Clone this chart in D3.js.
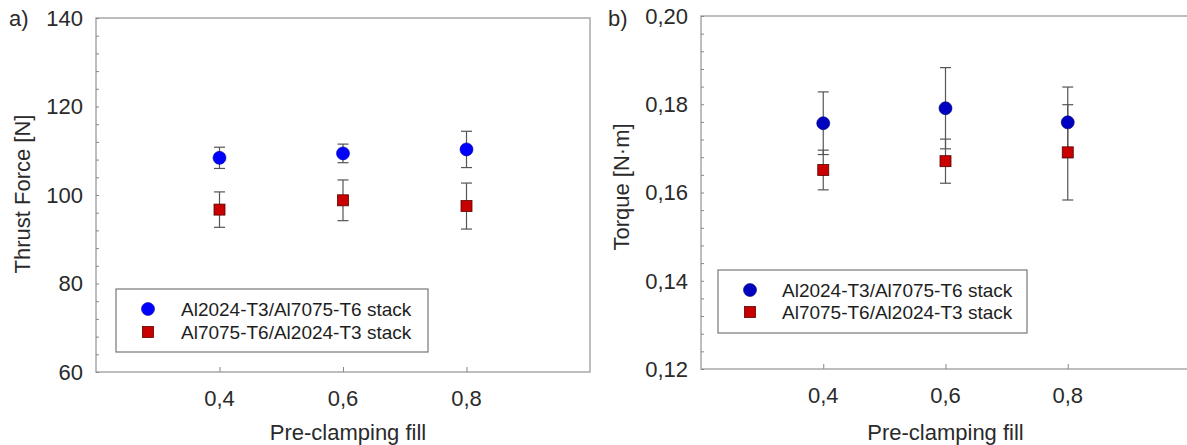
<!DOCTYPE html>
<html>
<head>
<meta charset="utf-8">
<script src="https://cdn.jsdelivr.net/npm/d3@7"></script>
<style>
  body { margin: 0; background: #fff; }
  svg { display: block; font-family: "Liberation Sans", Arial, sans-serif; }
</style>
</head>
<body>
<svg id="chart" width="1187" height="445"></svg>
<script>
// pre-clamping fill levels (x)
const fills = [0.4, 0.6, 0.8];
const seriesNames = ["Al2024-T3/Al7075-T6 stack", "Al7075-T6/Al2024-T3 stack"];

// a) thrust force [N]
const thrustA = [108.4, 109.4, 110.3];
const thrustAErr = [2.4, 2.1, 4.1];
const thrustB = [96.7, 98.8, 97.5];
const thrustBErr = [4.0, 4.6, 5.2];
const thrustTicks = [60, 80, 100, 120, 140];

// b) torque [N·m]
const torqueA = [0.1757, 0.1791, 0.1759];
const torqueAErr = [0.0071, 0.0092, 0.0080];
const torqueB = [0.1651, 0.1671, 0.1691];
const torqueBErr = [0.0045, 0.0050, 0.0108];
const torqueTicks = [0.12, 0.14, 0.16, 0.18, 0.20];

const comma = f => d => f(d).replace(".", ",");

const svg = d3.select("#chart");

function drawPanel(cfg) {
  const x = d3.scaleLinear().domain([0.2, 1.0]).range([cfg.left, cfg.right]);
  const y = d3.scaleLinear().domain(cfg.yDomain).range([cfg.bottom, cfg.top]);
  const g = svg.append("g");

  // frame
  g.append("rect")
    .attr("x", cfg.left).attr("y", cfg.top)
    .attr("width", cfg.right - cfg.left).attr("height", cfg.bottom - cfg.top)
    .attr("fill", "none").attr("stroke", "#a8a8a8").attr("stroke-width", 1.5);

  // y axis: inward ticks, minor every 1/5 of major
  const minor = d3.range(cfg.yDomain[0], cfg.yDomain[1] + cfg.minorStep / 2, cfg.minorStep);
  const yAxis = d3.axisRight(y).tickValues(minor).tickSize(3).tickFormat("");
  g.append("g").attr("transform", `translate(${cfg.left},0)`).call(yAxis)
    .call(a => a.select(".domain").remove())
    .call(a => a.selectAll("line").attr("stroke", "#888"));

  g.append("g").selectAll("text")
    .data(cfg.yTicks)
    .join("text")
    .attr("x", cfg.left - 13)
    .attr("y", d => y(d))
    .attr("dy", "0.36em")
    .attr("text-anchor", "end")
    .attr("font-size", 22)
    .attr("fill", "#2a2a2a")
    .text(cfg.yFormat);

  // x axis
  const xAxis = d3.axisTop(x).tickValues(fills).tickSize(5).tickFormat("");
  g.append("g").attr("transform", `translate(0,${cfg.bottom})`).call(xAxis)
    .call(a => a.select(".domain").remove())
    .call(a => a.selectAll("line").attr("stroke", "#888"));

  g.append("g").selectAll("text")
    .data(fills)
    .join("text")
    .attr("x", d => x(d))
    .attr("y", cfg.bottom + 34)
    .attr("text-anchor", "middle")
    .attr("font-size", 22)
    .attr("fill", "#2a2a2a")
    .text(comma(d3.format(".1f")));

  // titles
  g.append("text")
    .attr("x", (cfg.left + cfg.titleRight) / 2)
    .attr("y", 440)
    .attr("text-anchor", "middle")
    .attr("font-size", 22)
    .attr("fill", "#2a2a2a")
    .text("Pre-clamping fill");

  g.append("text")
    .attr("transform", `translate(${cfg.yTitleX},${cfg.yTitleY}) rotate(-90)`)
    .attr("text-anchor", "middle")
    .attr("font-size", 22)
    .attr("fill", "#2a2a2a")
    .text(cfg.yTitle);

  g.append("text")
    .attr("x", cfg.labelX).attr("y", 26)
    .attr("font-size", 22)
    .attr("fill", "#2a2a2a")
    .text(cfg.label);

  // error bars + markers
  const series = [
    { vals: cfg.a, errs: cfg.aErr, shape: "circle", fill: cfg.blue, stroke: cfg.blueStroke },
    { vals: cfg.b, errs: cfg.bErr, shape: "square", fill: "#c80000", stroke: "#5a0000" }
  ];
  const cap = 5.5;

  series.forEach(s => {
    const pts = fills.map((f, i) => ({ x: f, v: s.vals[i], e: s.errs[i] }));
    const eb = g.append("g").attr("stroke", "#555").attr("stroke-width", 1.2);
    eb.selectAll(".stem").data(pts).join("line")
      .attr("x1", d => x(d.x)).attr("x2", d => x(d.x))
      .attr("y1", d => y(d.v - d.e)).attr("y2", d => y(d.v + d.e));
    eb.selectAll(".cap").data(pts.flatMap(d => [{ x: d.x, v: d.v - d.e }, { x: d.x, v: d.v + d.e }])).join("line")
      .attr("x1", d => x(d.x) - cap).attr("x2", d => x(d.x) + cap)
      .attr("y1", d => y(d.v)).attr("y2", d => y(d.v));
  });

  series.forEach(s => {
    const pts = fills.map((f, i) => ({ x: f, v: s.vals[i] }));
    if (s.shape === "circle") {
      g.append("g").selectAll("circle").data(pts).join("circle")
        .attr("cx", d => x(d.x)).attr("cy", d => y(d.v)).attr("r", 6.5)
        .attr("fill", s.fill).attr("stroke", s.stroke).attr("stroke-width", 0.6);
    } else {
      g.append("g").selectAll("rect").data(pts).join("rect")
        .attr("x", d => x(d.x) - 5.5).attr("y", d => y(d.v) - 5.5)
        .attr("width", 11).attr("height", 11)
        .attr("fill", s.fill).attr("stroke", s.stroke).attr("stroke-width", 0.8);
    }
  });

  // legend
  const L = cfg.legend;
  const lg = g.append("g");
  lg.append("rect")
    .attr("x", L.x).attr("y", L.y).attr("width", L.w).attr("height", L.h)
    .attr("fill", "#fff").attr("stroke", "#777").attr("stroke-width", 1.2);
  lg.append("circle")
    .attr("cx", L.markX).attr("cy", L.y + L.row1).attr("r", 6.5)
    .attr("fill", cfg.blue).attr("stroke", cfg.blueStroke).attr("stroke-width", 0.6);
  lg.append("rect")
    .attr("x", L.markX - 5.5).attr("y", L.y + L.row2 - 5.5).attr("width", 11).attr("height", 11)
    .attr("fill", "#c80000").attr("stroke", "#5a0000").attr("stroke-width", 0.8);
  lg.selectAll("text").data(seriesNames).join("text")
    .attr("x", L.textX)
    .attr("y", (d, i) => L.y + (i === 0 ? L.row1 : L.row2))
    .attr("dy", "0.36em")
    .attr("font-size", 19)
    .attr("fill", "#1e1e1e")
    .text(d => d);
}

drawPanel({
  label: "a)", labelX: 9,
  left: 96, right: 590, top: 18, bottom: 372, titleRight: 600,
  yDomain: [60, 140], yTicks: thrustTicks, minorStep: 4,
  yFormat: d3.format("d"),
  yTitle: "Thrust Force [N]", yTitleX: 30, yTitleY: 194,
  a: thrustA, aErr: thrustAErr, b: thrustB, bErr: thrustBErr,
  blue: "#0000ff", blueStroke: "#0000a0",
  legend: { x: 116, y: 289, w: 312, h: 63, markX: 148, row1: 20, row2: 43, textX: 181 }
});

drawPanel({
  label: "b)", labelX: 608,
  left: 701, right: 1190, top: 16, bottom: 369, titleRight: 1190,
  yDomain: [0.12, 0.20], yTicks: torqueTicks, minorStep: 0.004,
  yFormat: comma(d3.format(".2f")),
  yTitle: "Torque [N·m]", yTitleX: 629, yTitleY: 187,
  a: torqueA, aErr: torqueAErr, b: torqueB, bErr: torqueBErr,
  blue: "#0000c0", blueStroke: "#000070",
  legend: { x: 718, y: 270, w: 309, h: 63, markX: 750, row1: 20, row2: 42, textX: 782 }
});
</script>
</body>
</html>
